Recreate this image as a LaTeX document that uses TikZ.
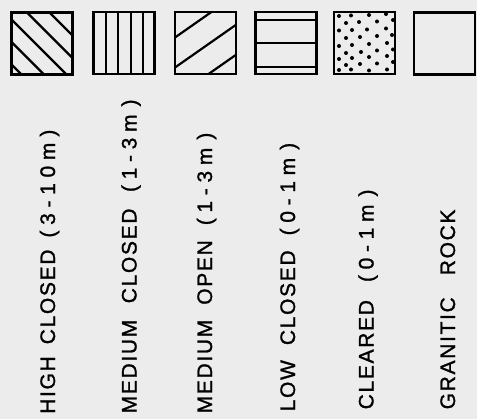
\documentclass[tikz,border=0pt]{standalone}
\usepackage{fontspec}
\newfontfamily\legendfont{Liberation Sans}[LetterSpace=8,FakeBold=1.2]
\usepackage{tikz}
\usetikzlibrary{positioning}
\definecolor{paper}{RGB}{236,236,236}
\newcommand{\heightrange}[1]{{\addfontfeature{LetterSpace=27}#1}}

\begin{document}
\begin{tikzpicture}[x=1pt, y=-1pt,
    swatch/.style={draw, line width=2.4pt, minimum width=61pt, minimum height=62pt, inner sep=0pt},
    hatch/.style={line width=2.2pt},
    lbl/.style={rotate=90, anchor=base west, inner sep=0pt, font=\legendfont\fontsize{21pt}{25pt}\selectfont},
]
\fill[paper] (0,0) rectangle (477,419);
\useasboundingbox (0,0) rectangle (477,419);

% Legend swatches
\node[swatch, path picture={
    \foreach \off in {-38,-15.5,7,29.5,52}
        \draw[hatch] ([shift={(0,\off)}]path picture bounding box.north west) -- ++(80,80);
}] (high) at (42,43.5) {};
\node[swatch, path picture={
    \foreach \i in {1,...,4}
        \draw[hatch] ([shift={(\i*12.4,0)}]path picture bounding box.north west) -- ++(0,70);
}] (medclosed) at (124,43) {};
\node[swatch, path picture={
    \foreach \off in {25.5,55.5,85.5}
        \draw[hatch] ([shift={(0,\off)}]path picture bounding box.north west) -- ++(100,-70);
}] (medopen) at (205.5,43) {};
\node[swatch, path picture={
    \foreach \off in {8,31.3,54.7}
        \draw[hatch] ([shift={(0,\off)}]path picture bounding box.north west) -- ++(70,0);
}] (low) at (286,43) {};
\node[swatch, path picture={
    \foreach \px/\py in {5/4,17/3.5,35/3,52/2,
                         12/11,25/10,43/9.5,59/8,
                         5/18.5,18/18,33/17.5,52/16.5,
                         12/26,26/25,43/24,58/23,
                         5/34,18/33,35/32,53/31,
                         12/41,27/40,43/38.5,59/37.5,
                         5/47,18/46,35/45,53/44,
                         12/53,26/52,43/51.5,59/50,
                         5/58,17/57.5,35/58.5,53/57.5}
        \fill ([shift={(\px,\py)}]path picture bounding box.north west) circle (2pt);
}] (cleared) at (364.5,43) {};
\node[swatch] (rock) at (444.5,43.5) {};

% Vertical labels
\node[lbl] (lhigh) at (55,414) {HIGH\hspace{12pt}CLOSED\hspace{12pt}\heightrange{(3-10m\hspace{6pt})}};
\node[lbl] (lmedclosed) at (136.5,413.5) {MEDIUM\hspace{16.5pt}CLOSED\hspace{16.5pt}\heightrange{(1-3m\hspace{8pt})}};
\node[lbl] (lmedopen) at (212,413.5) {MEDIUM\hspace{15pt}OPEN\hspace{15pt}\heightrange{(1-3m\hspace{8pt})}};
\node[lbl] (llow) at (295,411.5) {LOW\hspace{15pt}CLOSED\hspace{15pt}\heightrange{(0-1m\hspace{8pt})}};
\node[lbl] (lcleared) at (373.5,409.5) {CLEARED\hspace{18pt}\heightrange{(0-1m\hspace{8pt})}};
\node[lbl] (lrock) at (455,409.5) {GRANITIC\hspace{22pt}ROCK};
\end{tikzpicture}
\end{document}
